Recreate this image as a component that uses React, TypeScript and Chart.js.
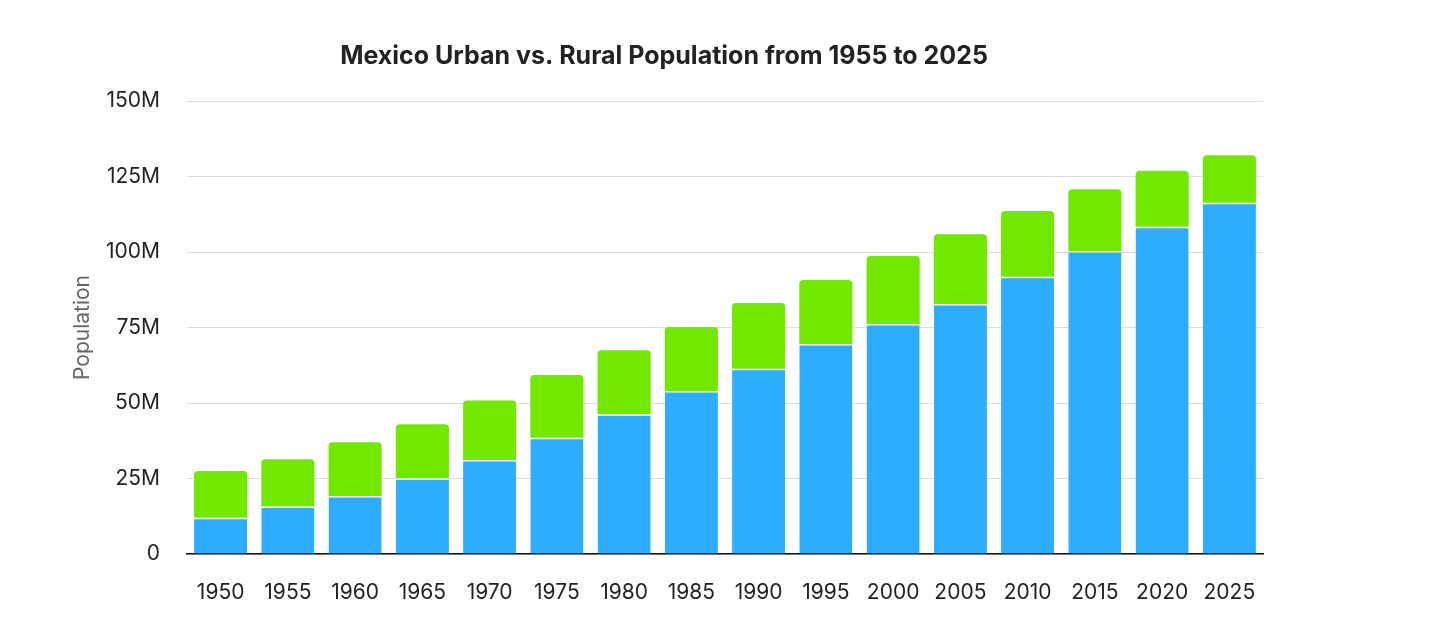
import React, { useEffect, useRef } from "react";
import { Chart, registerables } from "chart.js";

Chart.register(...registerables);

const years = ["1950","1955","1960","1965","1970","1975","1980","1985","1990","1995","2000","2005","2010","2015","2020","2025"];
const urban = [12.0, 15.7, 19.2, 25.1, 31.1, 38.5, 46.3, 54.0, 61.3, 69.5, 76.2, 82.8, 91.8, 100.3, 108.4, 116.3];
const rural = [15.5, 15.7, 17.8, 17.9, 19.7, 20.8, 21.2, 21.2, 21.8, 21.2, 22.5, 23.1, 21.8, 20.5, 18.5, 15.7];
const yTicks = [0, 25, 50, 75, 100, 125, 150];
const titleText = "Mexico Urban vs. Rural Population from 1955 to 2025";
const yTitle = "Population";

const FONT = "Inter, 'Liberation Sans', sans-serif";

export default function App() {
  const ref = useRef<HTMLCanvasElement | null>(null);
  useEffect(() => {
    if (!ref.current) return;
    const chart = new Chart(ref.current, {
      type: "bar",
      data: {
        labels: years,
        datasets: [
          {
            label: "Urban",
            data: urban,
            backgroundColor: "#2eadff",
            borderColor: "#ffffff",
            borderWidth: { top: 1.5, left: 0, right: 0, bottom: 0 },
            borderSkipped: false,
            barPercentage: 0.79,
            categoryPercentage: 1,
          },
          {
            label: "Rural",
            data: rural,
            backgroundColor: "#72e800",
            borderColor: "#7ae80f",
            borderWidth: 0,
            borderRadius: { topLeft: 4, topRight: 4, bottomLeft: 0, bottomRight: 0 },
            borderSkipped: false,
            barPercentage: 0.79,
            categoryPercentage: 1,
          },
        ],
      },
      options: {
        animation: false,
        responsive: true,
        maintainAspectRatio: false,
        layout: { padding: { left: 57, right: 57, top: 0, bottom: 12 } },
        plugins: {
          legend: { display: false },
          tooltip: { enabled: false },
          title: {
            display: true,
            text: titleText,
            color: "#222222",
            font: { family: FONT, size: 25, weight: "bold" },
            padding: { top: 33, bottom: 30 },
          },
        },
        scales: {
          x: {
            stacked: true,
            grid: { display: false, drawTicks: false },
            border: { display: true, color: "#111111", width: 1.5 },
            ticks: {
              color: "#222222",
              font: { family: FONT, size: 21 },
              padding: 26,
              maxRotation: 0,
              autoSkip: false,
            },
            afterFit: (s: any) => {
              s.height = 49;
            },
          },
          y: {
            stacked: true,
            min: 0,
            max: 150,
            afterBuildTicks: (axis: any) => {
              axis.ticks = yTicks.map((v) => ({ value: v }));
            },
            afterFit: (s: any) => {
              s.width = 122;
            },
            grid: { color: "#dddddd", drawTicks: false, lineWidth: 1 },
            border: { display: false },
            ticks: {
              color: "#222222",
              font: { family: FONT, size: 21 },
              padding: 27,
              callback: (v: any) => (v === 0 ? "0" : v + "M"),
            },
            title: {
              display: true,
              text: yTitle,
              color: "#666666",
              font: { family: FONT, size: 21 },
              padding: { top: 5, bottom: 8 },
            },
          },
        },
      },
    });
    return () => chart.destroy();
  }, []);
  return (
    <div style={{ width: 1312, height: 607, position: "relative" }}>
      <canvas ref={ref} />
    </div>
  );
}
